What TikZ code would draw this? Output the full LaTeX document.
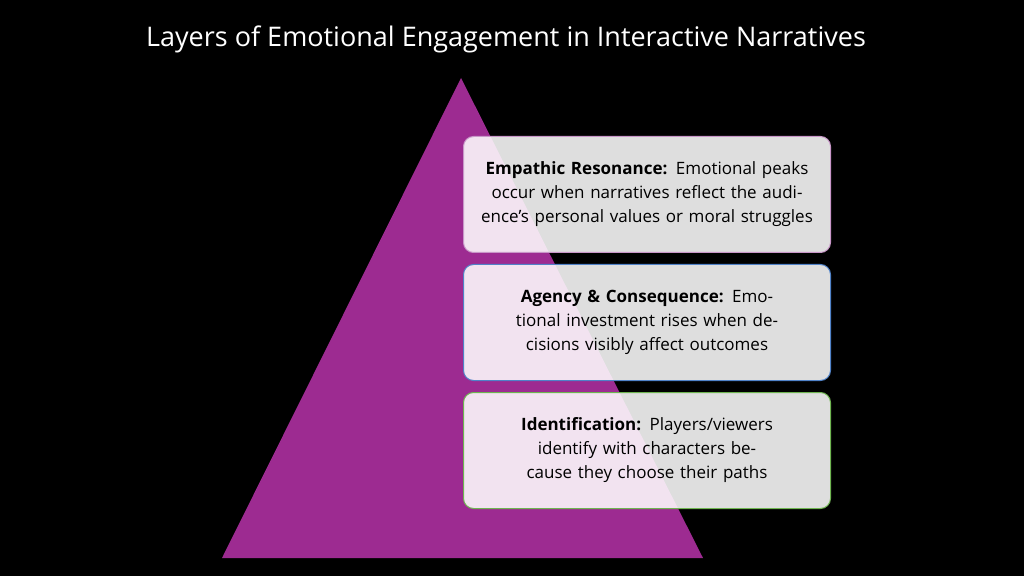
\documentclass[tikz,border=0pt]{standalone}
\usepackage{fontspec}
\setmainfont{Open Sans}
\definecolor{tri}{RGB}{157,43,145}
\definecolor{c1}{RGB}{200,150,200}
\definecolor{c2}{RGB}{80,130,200}
\definecolor{c3}{RGB}{110,180,80}
\tikzset{
  infobox/.style={draw=#1, line width=1pt, rounded corners=10pt, fill=white, fill opacity=0.87, text opacity=1,
    minimum width=367pt, minimum height=116pt, align=center, text width=350pt, font=\fontsize{17}{24}\selectfont, anchor=north west}
}
\begin{document}
\begin{tikzpicture}[x=1pt,y=1pt]
\fill[black] (0,0) rectangle (1024,576);
\useasboundingbox (0,0) rectangle (1024,576);
\node[text=white, font=\fontsize{27}{32}\selectfont] (title) at (506,537) {Layers of Emotional Engagement in Interactive Narratives};
\fill[tri] (461,498) coordinate (apex) -- (703,18) coordinate (br) -- (222,18) coordinate (bl) -- cycle;
\node[infobox=c1] (b1) at (463,440) {\textbf{Empathic Resonance:} Emotional peaks occur when narratives reflect the audience’s personal values or moral struggles};
\node[infobox=c2] (b2) at (463,312) {\textbf{Agency \& Consequence:} Emotional investment rises when decisions visibly affect outcomes};
\node[infobox=c3] (b3) at (463,184) {\textbf{Identification:} Players/viewers identify with characters because they choose their paths};
\end{tikzpicture}
\end{document}
